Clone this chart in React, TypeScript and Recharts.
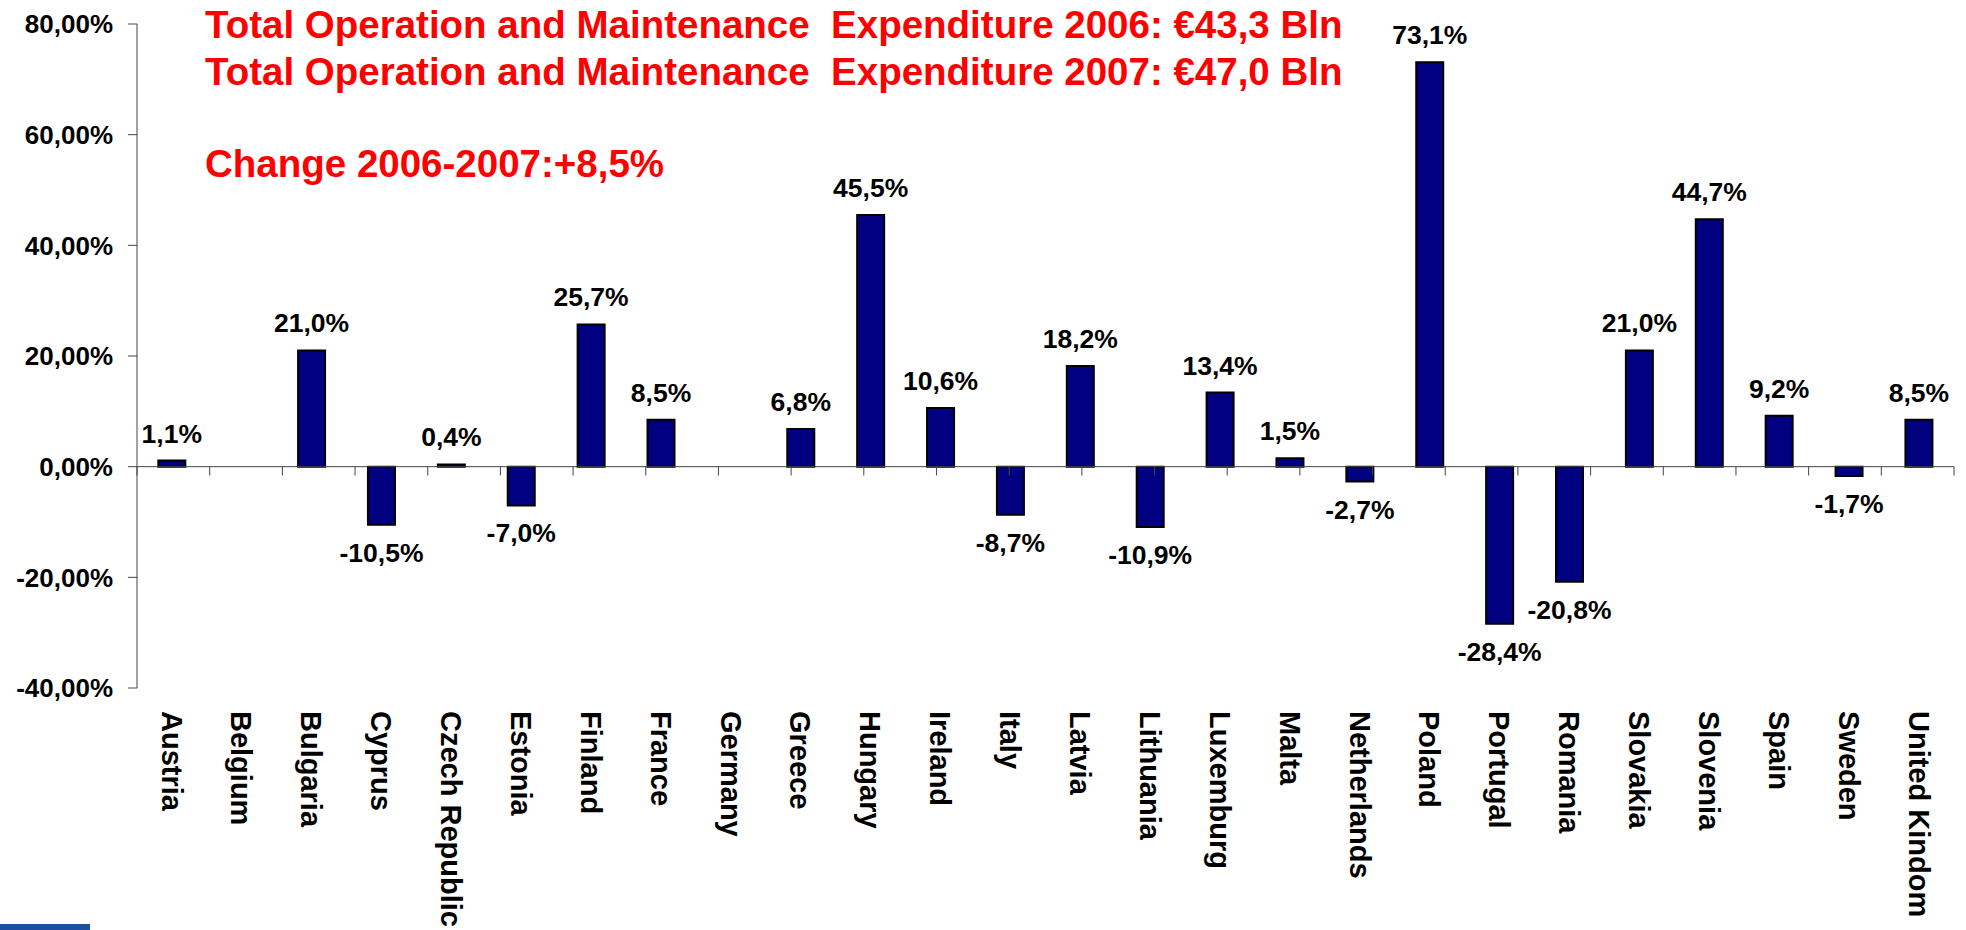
import { Bar, BarChart, LabelList, ReferenceLine, XAxis, YAxis } from "recharts";

const countries = [
  "Austria", "Belgium", "Bulgaria", "Cyprus", "Czech Republic", "Estonia", "Finland",
  "France", "Germany", "Greece", "Hungary", "Ireland", "Italy", "Latvia", "Lithuania",
  "Luxemburg", "Malta", "Netherlands", "Poland", "Portugal", "Romania", "Slovakia",
  "Slovenia", "Spain", "Sweden", "United Kindom",
];
// % change 2006-2007 (blank = no data)
const changes: Array<number | null> = [
  1.1, null, 21.0, -10.5, 0.4, -7.0, 25.7, 8.5, null, 6.8, 45.5, 10.6, -8.7, 18.2, -10.9,
  13.4, 1.5, -2.7, 73.1, -28.4, -20.8, 21.0, 44.7, 9.2, -1.7, 8.5,
];
const yTicks = [-40, -20, 0, 20, 40, 60, 80];
const headlines = [
  "Total Operation and Maintenance  Expenditure 2006: €43,3 Bln",
  "Total Operation and Maintenance  Expenditure 2007: €47,0 Bln",
];
const changeNote = "Change 2006-2007:+8,5%";

const data = countries.map((name, i) => ({ name, change: changes[i] }));
const boundaries = [...countries.map((_, i) => i), countries.length];

const font = "'Liberation Sans', Arial, sans-serif";
const comma = (v: number, digits: number) => v.toFixed(digits).replace(".", ",");

function CountryTick({ x, y, payload }: any) {
  return (
    <text
      x={x}
      y={y + 23}
      dy="0.36em"
      transform={`rotate(90 ${x} ${y + 23})`}
      textAnchor="start"
      fontFamily={font}
      fontWeight="bold"
      fontSize={29}
      fill="#000"
    >
      {payload.value}
    </text>
  );
}

function ValueLabel({ x, y, width, height, value }: any) {
  if (value == null) return null;
  const top = Math.min(y, y + height);
  const bottom = Math.max(y, y + height);
  const ty = value >= 0 ? top - 18 : bottom + 37;
  return (
    <text x={x + width / 2} y={ty} textAnchor="middle" fontFamily={font} fontWeight="bold" fontSize={26.5} fill="#000">
      {comma(value, 1)}%
    </text>
  );
}

export default function App() {
  return (
    <div style={{ position: "absolute", left: 0, top: 0, width: 1966, height: 930, background: "#fff" }}>
      <BarChart
        width={1966}
        height={930}
        data={data}
        margin={{ top: 24, right: 12, bottom: 0, left: 0 }}
        barCategoryGap="30.5%"
      >
        <XAxis
          dataKey="name"
          interval={0}
          axisLine={false}
          tickLine={false}
          tickSize={0}
          tickMargin={0}
          height={242}
          tick={<CountryTick />}
        />
        <XAxis xAxisId="grid" type="number" domain={[0, countries.length]} allowDataOverflow hide />
        <YAxis
          width={137}
          domain={[-40, 80]}
          ticks={yTicks}
          interval={0}
          tickSize={9}
          tickMargin={15}
          stroke="#444"
          tick={{ fill: "#000", fontFamily: font, fontWeight: "bold", fontSize: 26 }}
          tickFormatter={(v: number) => `${comma(v, 2)}%`}
        />
        <ReferenceLine y={0} stroke="#444" strokeWidth={1} />
        {boundaries.map((b) => (
          <ReferenceLine
            key={`tick-${b}`}
            xAxisId="grid"
            segment={[{ x: b, y: 0 }, { x: b, y: -1.6 }]}
            stroke="#444"
            strokeWidth={1}
          />
        ))}
        <Bar dataKey="change" fill="#000080" stroke="#000" strokeWidth={2} isAnimationActive={false}>
          <LabelList dataKey="change" content={<ValueLabel />} />
        </Bar>
      </BarChart>
      <svg width={1966} height={200} style={{ position: "absolute", left: 0, top: 0, pointerEvents: "none" }}>
        {headlines.map((line, i) => (
          <text
            key={line}
            x={205}
            y={38 + i * 47}
            fill="#ff0000"
            fontFamily={font}
            fontWeight="bold"
            fontSize={38.5}
            style={{ whiteSpace: "pre" }}
          >
            {line}
          </text>
        ))}
        <text x={205} y={177} fill="#ff0000" fontFamily={font} fontWeight="bold" fontSize={38.5}>
          {changeNote}
        </text>
      </svg>
      <div style={{ position: "absolute", left: 0, top: 924, width: 90, height: 6, background: "#1b4f9f" }} />
    </div>
  );
}
